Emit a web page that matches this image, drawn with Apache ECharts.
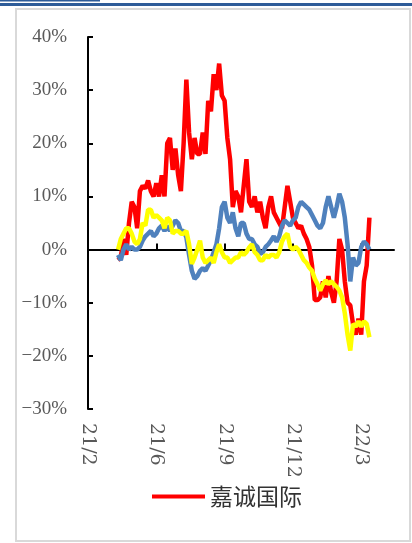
<!DOCTYPE html>
<html>
<head>
<meta charset="utf-8">
<script src="https://cdn.jsdelivr.net/npm/echarts@6/dist/echarts.min.js"></script>
<style>
html,body{margin:0;padding:0;background:#fff;}
#main{width:412px;height:543px;}
</style>
</head>
<body>
<div id="main"></div>
<script>
// x axis: 113 slots, labelled every 25th slot
const slotCount = 113;
const tickLabels = ['21/2', '21/6', '21/9', '21/12', '22/3'];
const firstSlot = 11; // series start here

// values in %, one per slot from firstSlot on
const jiacheng = [
  -2, -1.5, 2, -1, 5, 9, 8, 4, 11, 12,
  11.5, 13, 11, 10, 12.5, 10, 14, 10, 20, 21,
  15, 19, 14, 11, 20, 32, 22, 17, 21, 18,
  18, 22, 18, 28, 26, 33, 30, 35, 29, 28,
  21, 17, 8, 11, 10, 7, 12, 17, 9, 8,
  10, 7, 9, 6, 4, 8, 10, 7, 6, 5,
  4, 8, 12, 9, 6, 5, 4, 4.5, 3, 2,
  0.5, -3, -9.5, -9.5, -9, -6, -9, -5, -8, -10,
  -6, 2, 0, -6, -10, -10.5, -14, -16, -13, -16,
  -6, -3, 6
];
const blueLine = [
  -1, -2, 0, 1, 0, 0.5, 0, 0, 0.5, 1.7,
  2.5, 3, 3.5, 2.5, 3, 4, 4.5, 3.5, 4.5, 3.5,
  4.5, 5.5, 5, 3.5, 3.5, 2.3, -1, -4, -5.5, -5,
  -4, -3.5, -4, -3, -2, -0.5, 1, 4, 8, 9,
  6, 5, 7, 4, 2.5, 5, 5, 3, 2, 2,
  1, 0.5, -0.8, -0.5, 0.5, 1, 1.7, 2.5, 1.5, 2.5,
  4.5, 5.5, 5, 4.5, 5.5, 6, 8, 9, 8.5, 8,
  7.5, 6.5, 5.5, 4.5, 4, 5, 8, 10, 8, 6,
  8, 10.5, 9, 6, 1, -6, -1.5, -3, -2.5, 0.5,
  1.5, 1, 0
];
const yellowLine = [
  0, 2, 3, 4, 4, 3, 1.5, 1, 2, 5,
  4.5, 7.5, 7.5, 6, 6.5, 6, 5.5, 4, 6, 5.5,
  3, 3.5, 3.5, 3, 3, 3.5, 1, -2.7, -1.5, 0,
  1.7, -1.5, -2.5, -2, -1.5, -2.5, -0.5, 1, -0.5, -1.5,
  -1.5, -2.5, -2, -1.5, -1.5, -0.5, -1, -0.5, 0.4, 1,
  -0.5, -1, -2, -2, -1, -1.5, -1, -1, -1.5, -0.5,
  1.5, 2.5, 3, 0.5, 0, 0.5, 0, -1, -2, -2.5,
  -3.4, -4, -5.5, -6.5, -7.7, -6.5, -5.8, -6.5, -6, -6.5,
  -7, -7.7, -9, -12, -16, -19, -14, -14.5, -13.5, -14.5,
  -13.5, -14, -16.5
];

const labelStep = 25;
const categories = [];
for (let i = 0; i < slotCount; i++) {
  categories.push(i % labelStep === 0 ? tickLabels[i / labelStep] : '');
}
function pad(vals) {
  return Array(firstSlot).fill('-').concat(vals.map(v => v / 100));
}

const grey = '#595959';
const option = {
  animation: false,
  backgroundColor: '#fff',
  grid: { left: 88, right: 18, top: 37, bottom: 134 },
  legend: {
    data: ['嘉诚国际'],
    left: 147,
    top: 480,
    icon: 'rect',
    itemWidth: 53,
    itemHeight: 4,
    itemGap: 0,
    textStyle: { fontFamily: 'Noto Sans CJK SC', fontSize: 23, color: '#333', padding: [0, 0, 0, 0] }
  },
  xAxis: [{
    type: 'category',
    data: categories,
    boundaryGap: false,
    axisLine: { onZero: true, lineStyle: { color: '#000', width: 2 } },
    axisTick: { inside: true, length: 6, interval: labelStep - 1, lineStyle: { color: '#000', width: 2 } },
    axisLabel: { show: false },
    splitLine: { show: false }
  }, {
    type: 'category',
    data: categories,
    boundaryGap: false,
    position: 'bottom',
    axisLine: { show: false, onZero: false },
    axisTick: { show: false },
    axisLabel: {
      interval: labelStep - 1,
      rotate: -90,
      margin: 14,
      color: grey,
      fontFamily: 'DejaVu Serif',
      fontSize: 19
    },
    splitLine: { show: false }
  }],
  yAxis: {
    type: 'value',
    min: -0.3,
    max: 0.4,
    interval: 0.1,
    axisLine: { show: true, lineStyle: { color: '#000', width: 2 } },
    axisTick: { show: true, inside: true, length: 5, lineStyle: { color: '#000', width: 2 } },
    axisLabel: {
      margin: 21,
      color: grey,
      fontFamily: 'Liberation Serif',
      fontSize: 19,
      formatter: v => (Math.round(v * 100) + '%').replace('-', '\u2212')
    },
    splitLine: { show: false }
  },
  series: [{
    name: '嘉诚国际',
    type: 'line',
    data: pad(jiacheng),
    showSymbol: false,
    color: '#ff0000',
    lineStyle: { width: 4.5, color: '#ff0000' }
  }, {
    name: '对比1',
    type: 'line',
    data: pad(blueLine),
    showSymbol: false,
    color: '#4f81bd',
    lineStyle: { width: 4.5, color: '#4f81bd' }
  }, {
    name: '对比2',
    type: 'line',
    data: pad(yellowLine),
    showSymbol: false,
    color: '#ffff00',
    lineStyle: { width: 4.5, color: '#ffff00' }
  }],
  graphic: [
    { type: 'rect', shape: { x: 0, y: 3, width: 412, height: 3 }, style: { fill: '#2e5c99' } },
    { type: 'rect', shape: { x: 0, y: 0, width: 100, height: 1.5 }, style: { fill: '#2e5c99' } },
    { type: 'rect', shape: { x: 16, y: 9, width: 394, height: 532 }, style: { fill: null, stroke: '#d9d9d9', lineWidth: 2 } }
  ]
};

let myChart = echarts.init(document.getElementById('main'));
myChart.setOption(option);
</script>
</body>
</html>
